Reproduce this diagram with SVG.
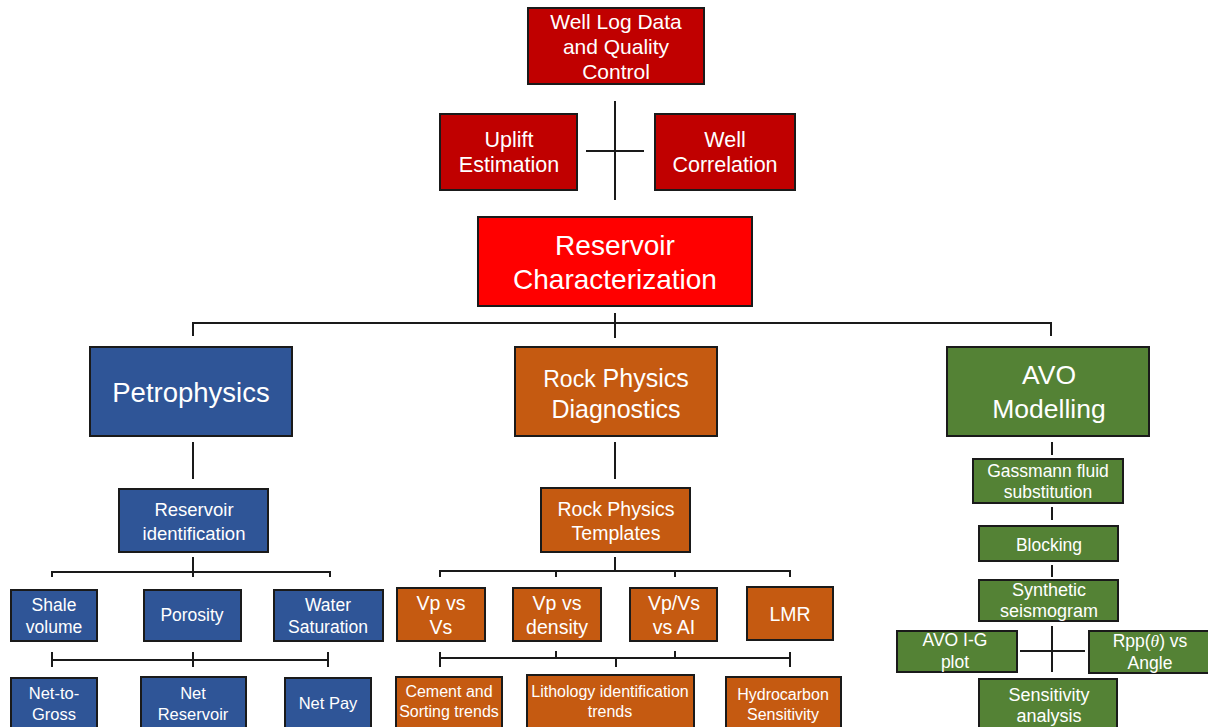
<svg xmlns="http://www.w3.org/2000/svg" width="1208" height="727" viewBox="0 0 1208 727">
<style>
.n rect{stroke:#1a1a1a;stroke-width:2}
.dr{fill:#C00000}.rd{fill:#FF0000}.bl{fill:#2F5597}.or{fill:#C55A11}.gr{fill:#548235}
text{font-family:"Liberation Sans",Arial,sans-serif;fill:#fff;text-anchor:middle}
.c path{stroke:#1a1a1a;stroke-width:2;fill:none}
</style>
<rect width="1208" height="727" fill="#fff"/>
<g class="c" id="connectors">
<path d="M615 101V200M586 151H644"/>
<path d="M615 313V338M193 336V323H1051V336"/>
<path d="M193 442V479M615 442V479M1052 442V455M1052 507V520M1052 565V577"/>
<path d="M52 577V572H330V577M193 557V577"/>
<path d="M52 652V667M52 660H328M328 652V667M193 652V667"/>
<path d="M440 577V571H790V577M556 571V577M675 571V577M615 557V571"/>
<path d="M440 652V667M440 658H790M790 652V667M556 651V658M675 651V658M616 658V667"/>
<path d="M1052 626V672M1020 651H1085"/>
</g>
<g class="n" id="n1"><rect class="dr" x="528" y="8" width="176" height="76"/><text font-size="21"><tspan x="616" y="29">Well Log Data</tspan><tspan x="616" y="54">and Quality</tspan><tspan x="616" y="79">Control</tspan></text></g>
<g class="n" id="n2"><rect class="dr" x="440" y="114" width="137" height="76"/><text font-size="21.5"><tspan x="509" y="147">Uplift</tspan><tspan x="509" y="172">Estimation</tspan></text></g>
<g class="n" id="n3"><rect class="dr" x="655" y="114" width="140" height="76"/><text font-size="21.5"><tspan x="725" y="147">Well</tspan><tspan x="725" y="172">Correlation</tspan></text></g>
<g class="n" id="n4"><rect class="rd" x="478" y="217" width="274" height="89"/><text font-size="28"><tspan x="615" y="255">Reservoir</tspan><tspan x="615" y="289">Characterization</tspan></text></g>
<g class="n" id="n5"><rect class="bl" x="90" y="347" width="202" height="89"/><text font-size="27.5" x="191" y="402">Petrophysics</text></g>
<g class="n" id="n6"><rect class="or" x="515" y="347" width="202" height="89"/><text font-size="25"><tspan x="616" y="387"><tspan font-size="23">Rock</tspan> Physics</tspan><tspan x="616" y="418">Diagnostics</tspan></text></g>
<g class="n" id="n7"><rect class="gr" x="947" y="347" width="202" height="89"/><text font-size="26.5"><tspan x="1049" y="384">AVO</tspan><tspan x="1049" y="418">Modelling</tspan></text></g>
<g class="n" id="n8"><rect class="bl" x="119" y="489" width="149" height="63"/><text font-size="18.5"><tspan x="194" y="516">Reservoir</tspan><tspan x="194" y="540">identification</tspan></text></g>
<g class="n" id="n9"><rect class="or" x="541" y="488" width="149" height="64"/><text font-size="19.5"><tspan x="616" y="516">Rock Physics</tspan><tspan x="616" y="540">Templates</tspan></text></g>
<g class="n" id="n10"><rect class="bl" x="11" y="590" width="86" height="51"/><text font-size="17.5"><tspan x="54" y="611">Shale</tspan><tspan x="54" y="633">volume</tspan></text></g>
<g class="n" id="n11"><rect class="bl" x="144" y="590" width="97" height="51"/><text font-size="17.5" x="192" y="621">Porosity</text></g>
<g class="n" id="n12"><rect class="bl" x="274" y="590" width="109" height="51"/><text font-size="17.5"><tspan x="328" y="611">Water</tspan><tspan x="328" y="633">Saturation</tspan></text></g>
<g class="n" id="n13"><rect class="bl" x="11" y="678" width="86" height="55"/><text font-size="16.5"><tspan x="54" y="699">Net-to-</tspan><tspan x="54" y="720">Gross</tspan></text></g>
<g class="n" id="n14"><rect class="bl" x="141" y="677" width="105" height="56"/><text font-size="16.5"><tspan x="193" y="699">Net</tspan><tspan x="193" y="720">Reservoir</tspan></text></g>
<g class="n" id="n15"><rect class="bl" x="285" y="678" width="86" height="55"/><text font-size="16.5" x="328" y="709">Net Pay</text></g>
<g class="n" id="n16"><rect class="or" x="397" y="588" width="88" height="53"/><text font-size="19.5"><tspan x="441" y="610">Vp vs</tspan><tspan x="441" y="634">Vs</tspan></text></g>
<g class="n" id="n17"><rect class="or" x="513" y="588" width="88" height="53"/><text font-size="19.5"><tspan x="557" y="610">Vp vs</tspan><tspan x="557" y="634">density</tspan></text></g>
<g class="n" id="n18"><rect class="or" x="630" y="588" width="87" height="53"/><text font-size="19.5"><tspan x="674" y="610">Vp/Vs</tspan><tspan x="674" y="634">vs AI</tspan></text></g>
<g class="n" id="n19"><rect class="or" x="747" y="587" width="86" height="53"/><text font-size="19.5" x="790" y="621">LMR</text></g>
<g class="n" id="n20"><rect class="or" x="396" y="677" width="106" height="56"/><text font-size="16"><tspan x="449" y="697">Cement and</tspan><tspan x="449" y="717">Sorting trends</tspan></text></g>
<g class="n" id="n21"><rect class="or" x="527" y="675" width="167" height="58"/><text font-size="16"><tspan x="610" y="697">Lithology identification</tspan><tspan x="610" y="717">trends</tspan></text></g>
<g class="n" id="n22"><rect class="or" x="726" y="677" width="115" height="56"/><text font-size="16"><tspan x="783" y="700">Hydrocarbon</tspan><tspan x="783" y="720">Sensitivity</tspan></text></g>
<g class="n" id="n23"><rect class="gr" x="973" y="459" width="150" height="44"/><text font-size="17.5"><tspan x="1048" y="477">Gassmann fluid</tspan><tspan x="1048" y="498">substitution</tspan></text></g>
<g class="n" id="n24"><rect class="gr" x="979" y="526" width="139" height="35"/><text font-size="17.5" x="1049" y="551">Blocking</text></g>
<g class="n" id="n25"><rect class="gr" x="979" y="580" width="139" height="41"/><text font-size="18"><tspan x="1049" y="596">Synthetic</tspan><tspan x="1049" y="617">seismogram</tspan></text></g>
<g class="n" id="n26"><rect class="gr" x="897" y="631" width="120" height="41"/><text font-size="17.5"><tspan x="955" y="646">AVO I-G</tspan><tspan x="955" y="668">plot</tspan></text></g>
<g class="n" id="n27"><rect class="gr" x="1089" y="631" width="125" height="42"/><text font-size="17.5"><tspan x="1150" y="647">Rpp(<tspan font-family="'Liberation Serif',serif" font-style="italic">θ</tspan>) vs</tspan><tspan x="1150" y="669">Angle</tspan></text></g>
<g class="n" id="n28"><rect class="gr" x="979" y="679" width="138" height="54"/><text font-size="18"><tspan x="1049" y="701">Sensitivity</tspan><tspan x="1049" y="722">analysis</tspan></text></g>
</svg>
